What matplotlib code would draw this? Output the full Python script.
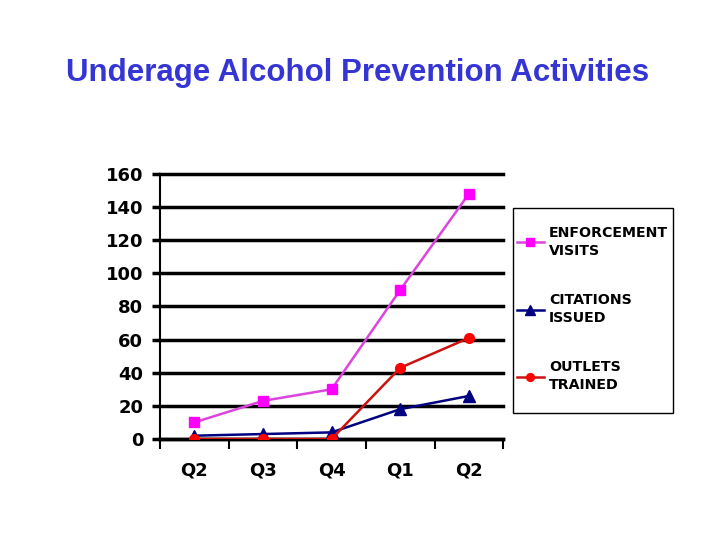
import matplotlib.pyplot as plt
from matplotlib.patches import Rectangle
from matplotlib.ticker import FixedLocator

quarters = ['Q2', 'Q3', 'Q4', 'Q1', 'Q2']
enforcement = [10, 23, 30, 90, 148]
citations = [2, 3, 4, 18, 26]
outlets = [0, 0, 0, 43, 61]

fig = plt.figure(figsize=(7.2, 5.4), dpi=100)
fig.patch.set_facecolor('white')
ax = fig.add_axes([0.222, 0.187, 0.477, 0.491])

x = list(range(len(quarters)))

ax.plot(x, enforcement, color='#DD44DD', lw=1.8, marker='s', ms=7,
        mfc='#FF00FF', mec='#FF00FF', label='ENFORCEMENT\nVISITS', zorder=5)
ax.plot(x, citations, color='#000080', lw=1.8, marker='^', ms=9,
        mfc='#000080', mec='#000080', label='CITATIONS\nISSUED', zorder=4)
ax.plot(x, outlets, color='#CC1111', lw=1.8, marker='o', ms=7,
        mfc='#FF0000', mec='#FF0000', label='OUTLETS\nTRAINED', zorder=6)

ax.set_xlim(-0.5, 4.5)
ax.set_ylim(0, 160)
ax.set_yticks(range(0, 161, 20))
ax.set_xticks(x)
ax.set_xticklabels(quarters)
ax.xaxis.set_minor_locator(FixedLocator([i - 0.5 for i in range(6)]))
ax.tick_params(axis='x', which='major', length=0, pad=16)
ax.tick_params(axis='x', which='minor', length=7, width=1.5, direction='out')
ax.tick_params(axis='y', length=6, width=2.5, pad=6)

for lbl in ax.get_xticklabels() + ax.get_yticklabels():
    lbl.set_fontweight('bold')
    lbl.set_fontsize(13)
    lbl.set_family('DejaVu Sans')

ax.grid(axis='y', color='black', lw=2.5)
for gl in ax.get_ygridlines():
    gl.set_clip_on(False)
ax.set_axisbelow(True)
for s in ['top', 'right']:
    ax.spines[s].set_visible(False)
ax.spines['left'].set_linewidth(1.5)
ax.spines['bottom'].set_linewidth(2.5)

# legend text placed without frame, frame drawn as separate box like the original
leg = fig.legend(loc='upper left', bbox_to_anchor=(0.718, 0.582),
                 frameon=False, prop={'weight': 'bold', 'size': 10.2},
                 labelspacing=2.45, handlelength=1.9, handletextpad=0.35,
                 borderpad=0, borderaxespad=0, markerscale=0.8)
for t in leg.get_texts():
    t.set_linespacing(1.4)
fig.patches.append(Rectangle((513 / 720, 1 - 413 / 540), 160 / 720, 205 / 540,
                             transform=fig.transFigure, fill=False,
                             ec='black', lw=1))

fig.text(0.497, 0.865, 'Underage Alcohol Prevention Activities', ha='center',
         va='center', color='#3535D5', fontsize=22.5, fontweight='bold',
         family='Liberation Sans')

fig.savefig('out.png', dpi=100)
